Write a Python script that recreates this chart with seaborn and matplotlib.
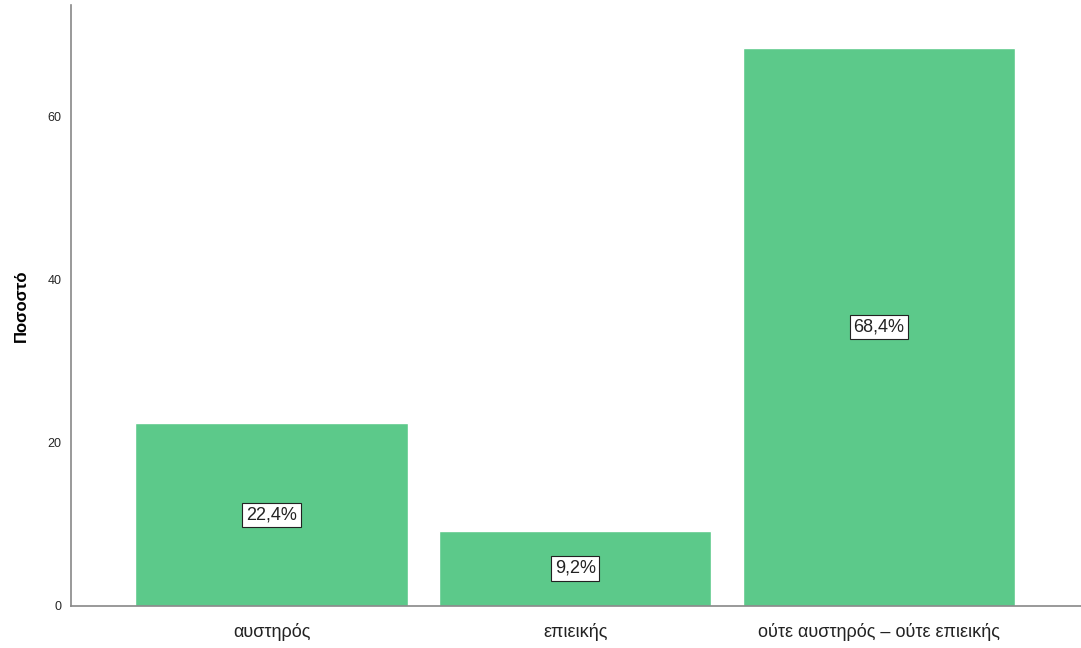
import matplotlib
matplotlib.use("Agg")
import matplotlib.pyplot as plt
import seaborn as sns
import pandas as pd

# Data
categories = ["αυστηρός", "επιεικής", "ούτε αυστηρός – ούτε επιεικής"]
percent = [22.4, 9.2, 68.4]
bar_labels = ["22,4%", "9,2%", "68,4%"]

df = pd.DataFrame({"cat": categories, "pct": percent})

sns.set_style("white")
plt.rcParams['font.family'] = ['Liberation Sans', 'DejaVu Sans']

fig = plt.figure(figsize=(10.81, 6.48), dpi=100)
ax = fig.add_axes([71/1081, 42/648, 1 - 71/1081, 601/648])

sns.barplot(data=df, x="cat", y="pct", color="#5CC98A", saturation=1,
            width=0.896, ax=ax)

# percentage labels in white boxes at mid-height
for i, (v, lab) in enumerate(zip(percent, bar_labels)):
    ax.text(i, v / 2, lab, ha="center", va="center", fontsize=13, color="#222222",
            bbox=dict(boxstyle="square,pad=0.2", fc="white", ec="#222222", lw=0.8))

ax.set_xlim(-0.66, 2.665)
ax.set_ylim(0, 73.7)
ax.set_yticks([0, 20, 40, 60])
ax.set_xlabel("")
ax.set_ylabel("Ποσοστό", fontsize=12, fontweight="bold", labelpad=13, color="black")
ax.tick_params(axis="y", labelsize=9, length=0, pad=7)
ax.tick_params(axis="x", labelsize=13, length=0, pad=12, colors="#222222")
for s in ["top", "right"]:
    ax.spines[s].set_visible(False)
for s in ["left", "bottom"]:
    ax.spines[s].set_color("#888888")
    ax.spines[s].set_linewidth(1.2)

fig.savefig("out.png", dpi=100)
